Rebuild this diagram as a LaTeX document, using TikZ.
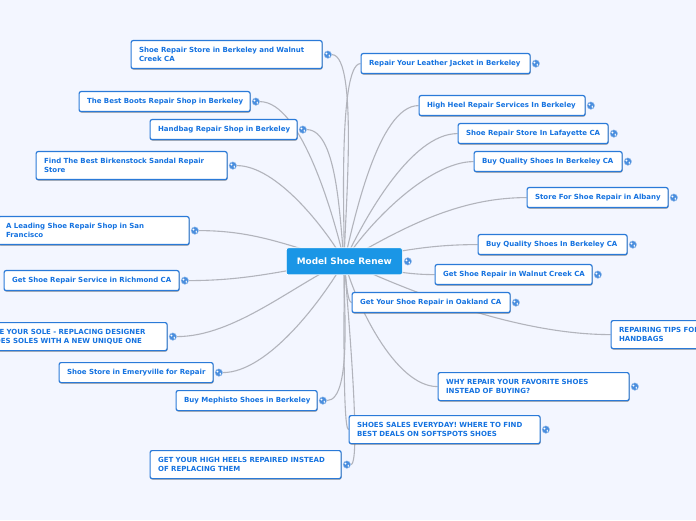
\documentclass[tikz,border=0pt]{standalone}
\usepackage{fontspec}
\setmainfont{DejaVu Sans}
\usetikzlibrary{positioning,shadows,backgrounds}
\definecolor{page}{HTML}{F3F6FF}
\definecolor{rootblue}{HTML}{1A96E6}
\definecolor{topicblue}{HTML}{2A7AD8}
\definecolor{inkblue}{HTML}{1472E0}
\definecolor{linkgrey}{HTML}{B2B4BC}
\tikzset{
  x=1pt,y=1pt,
  topic/.style={rectangle,rounded corners=2pt,draw=topicblue,line width=1.2pt,fill=white,anchor=north west,align=left,
    inner xsep=7pt,inner ysep=0pt,minimum height=#1,font=\fontsize{7}{9}\selectfont\bfseries,text=inkblue,
    execute at begin node={\leftskip=1pt\relax},
    drop shadow={shadow xshift=0.4pt,shadow yshift=-1pt,fill=black!55,opacity=0.8}},
  topic/.default=20pt,
  rootnode/.style={rectangle,rounded corners=2pt,draw=white,line width=0.7pt,fill=rootblue,minimum width=116pt,minimum height=27pt,
    anchor=north west,font=\fontsize{8.9}{10}\selectfont\bfseries,text=white},
  globe/.style={circle,fill=topicblue!85,draw=topicblue!45,line width=0.4pt,minimum size=7.5pt,inner sep=0pt,
    path picture={\fill[white] (path picture bounding box.center)++(-1.4pt,1pt) circle (1.1pt);
      \fill[white] (path picture bounding box.center)++(1.4pt,-1.2pt) ellipse (0.7pt and 1.3pt);}},
  link/.style={draw=linkgrey,line width=1.1pt}
}
\begin{document}
\begin{tikzpicture}[node distance=1.2pt]
    \useasboundingbox (0,0) rectangle (696,520);
    \node[rootnode] (root) at (286,272.5) {Model Shoe Renew};
    \node[topic=28pt,text width=177pt] (store) at (130.5,480) {Shoe Repair Store in Berkeley and Walnut\\Creek CA};
    \node[topic,text width=155pt] (jacket) at (360.5,467) {Repair Your Leather Jacket in Berkeley};
    \node[topic,text width=157pt] (boots) at (78.5,429) {The Best Boots Repair Shop in Berkeley};
    \node[topic,text width=133pt] (handbag) at (149.5,401) {\mbox{Handbag Repair Shop in Berkeley}};
    \node[topic,text width=152pt] (heel) at (418.5,425) {High Heel Repair Services In Berkeley};
    \node[topic,text width=136pt] (lafayette) at (457.5,397) {Shoe Repair Store In Lafayette CA};
    \node[topic,text width=134pt] (quality) at (473.5,369) {Buy Quality Shoes In Berkeley CA};
    \node[topic=28pt,text width=177pt] (birkenstock) at (35.5,369) {Find The Best Birkenstock Sandal Repair\\Store};
    \node[topic,text width=127pt] (albany) at (526.5,333) {Store For Shoe Repair in Albany};
    \node[topic=28pt,text width=177pt] (leading) at (-2.5,304) {A Leading Shoe Repair Shop in San\\Francisco};
    \node[topic,text width=135pt] (qualitytwo) at (477.5,286) {Buy Quality Shoes In Berkeley CA};
    \node[topic,text width=143pt] (walnut) at (434.5,256) {Get Shoe Repair in Walnut Creek CA};
    \node[topic,text width=161pt] (richmond) at (3.5,250) {Get Shoe Repair Service in Richmond CA};
    \node[topic,text width=144pt] (oakland) at (351.5,228) {Get Your Shoe Repair in Oakland CA};
    \node[topic=28pt,text width=177pt] (tips) at (610.5,200) {REPAIRING TIPS FOR\\HANDBAGS};
    \node[topic=28pt,text width=177pt] (sole) at (-24.5,198) {SAVE YOUR SOLE - REPLACING DESIGNER\\SHOES SOLES WITH A NEW UNIQUE ONE};
    \node[topic,text width=140pt] (emeryville) at (58.5,158) {Shoe Store in Emeryville for Repair};
    \node[topic=28pt,text width=177pt] (why) at (437.5,148) {WHY REPAIR YOUR FAVORITE SHOES\\INSTEAD OF BUYING?};
    \node[topic,text width=127pt] (mephisto) at (175.5,130) {\mbox{Buy Mephisto Shoes in Berkeley}};
    \node[topic=28pt,text width=177pt] (sales) at (348.5,105) {SHOES SALES EVERYDAY! WHERE TO FIND\\BEST DEALS ON SOFTSPOTS SHOES};
    \node[topic=28pt,text width=177pt] (heels) at (149.5,70) {GET YOUR HIGH HEELS REPAIRED INSTEAD\\OF REPLACING THEM};
    \foreach \g in {root,store,jacket,boots,handbag,heel,lafayette,quality,birkenstock,albany,leading,qualitytwo,walnut,richmond,oakland,sole,emeryville,why,mephisto,sales,heels}
      \node[globe,right=of \g] (\g-g) {};
    \begin{scope}[on background layer]
      \fill[page] (0,0) rectangle (696,520);
      % left side, into the globe
      \foreach \a/\l/\b in {92/.35/store,103/.6/boots,98/.6/handbag,120/.7/birkenstock,165/1/leading,188/1/richmond,205/.8/sole,240/.7/emeryville,265/.5/mephisto,271/.15/heels}
        \draw[link] (root.center) to[out=\a,in=0,looseness=\l] (\b-g);
      % right side, into the box
      \foreach \a/\l/\b in {89/.3/jacket,77/.6/heel,65/.7/lafayette,58/.7/quality,30/.9/albany,10/1/qualitytwo,-10/1/walnut,-80/.3/oakland,-25/.8/tips,-75/.7/why,-88/.1/sales}
        \draw[link] (root.center) to[out=\a,in=180,looseness=\l] (\b);
    \end{scope}
  \end{tikzpicture}
\end{document}
